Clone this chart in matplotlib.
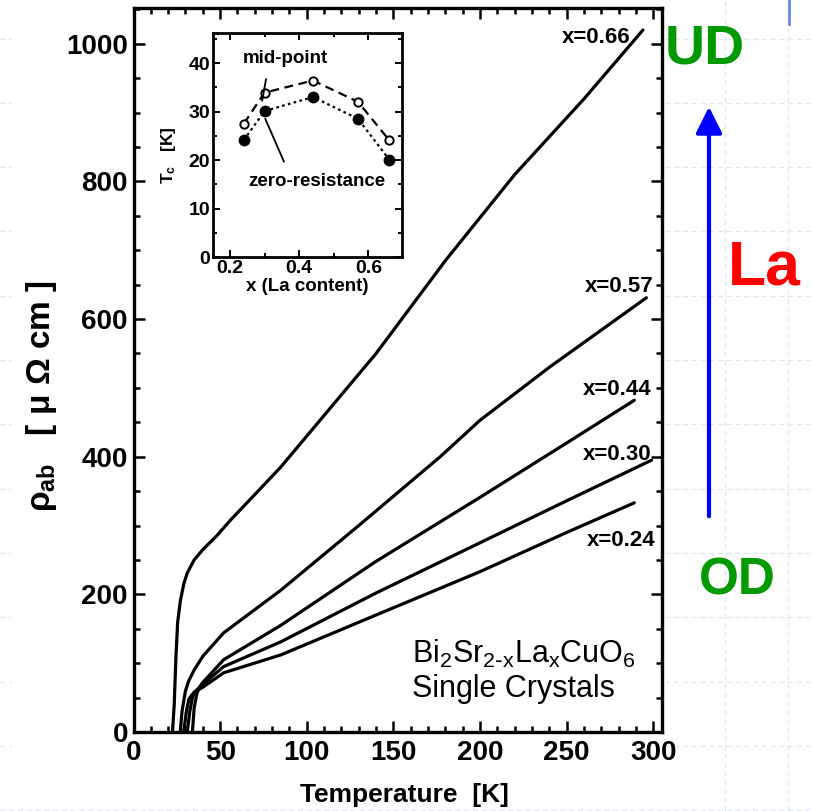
import matplotlib
matplotlib.use("Agg")
import matplotlib.pyplot as plt
from matplotlib.lines import Line2D
from matplotlib.patches import Rectangle, FancyArrowPatch

plt.rcParams['font.family'] = ['Liberation Sans', 'DejaVu Sans']
plt.rcParams['mathtext.default'] = 'regular'

# ---------------- data ----------------
T_066 = [22.5, 23.5, 24.5, 25.5, 27, 29, 31, 35, 40, 48, 56, 70, 85, 110, 140, 180, 220, 260, 294]
R_066 = [0, 40, 110, 160, 190, 215, 231, 250, 265, 285, 308, 345, 385, 460, 550, 685, 810, 920, 1020]
T_057 = [27, 28, 30, 32, 35, 40, 52, 85, 130, 177, 200, 240, 296]
R_057 = [0, 30, 60, 75, 90, 110, 144, 206, 300, 400, 453, 530, 631]
T_044 = [34, 35, 36.5, 38, 40, 52, 85, 140, 200, 250, 289]
R_044 = [0, 35, 55, 65, 72, 105, 155, 248, 341, 420, 482]
T_030 = [31, 32.5, 34, 36, 40, 52, 85, 140, 200, 250, 299]
R_030 = [0, 30, 50, 60, 69, 95, 131, 202, 275, 336, 395]
T_024 = [29, 30.5, 32, 35, 40, 52, 85, 140, 200, 250, 289]
R_024 = [0, 30, 48, 58, 65, 86, 112, 170, 233, 290, 333]

curve_labels = ["x=0.66", "x=0.57", "x=0.44", "x=0.30", "x=0.24"]
label_pos_T = [287, 300, 299, 299, 301]
label_pos_R = [1009, 647, 497, 403, 278]

x_ticks = [0, 50, 100, 150, 200, 250, 300]
y_ticks = [0, 200, 400, 600, 800, 1000]

# inset: Tc vs La content
x_La = [0.24, 0.30, 0.44, 0.57, 0.66]
Tc_mid = [27.5, 33.9, 36.4, 32.0, 24.1]
Tc_zero = [24.1, 30.1, 33.0, 28.5, 20.1]
inset_x_ticks = [0.2, 0.4, 0.6]
inset_y_ticks = [0, 10, 20, 30, 40]

W, H = 814, 811
fig = plt.figure(figsize=(W / 100, H / 100), dpi=100)

def fx(px):
    return px / W

def fy(py):
    return 1 - py / H

# ---------- faint slide grid in background ----------
grid_c = '#dfe5f7'
for k in range(13):
    yy = 38.5 + 64.3 * k
    fig.add_artist(Line2D([0, 1], [fy(yy), fy(yy)], color=grid_c, lw=0.9,
                          ls=(0, (4, 3)), transform=fig.transFigure, zorder=0))
for xx in [725, 788]:
    fig.add_artist(Line2D([fx(xx), fx(xx)], [0, 1], color=grid_c, lw=0.9,
                          ls=(0, (4, 3)), transform=fig.transFigure, zorder=0))
fig.add_artist(Line2D([fx(789), fx(789)], [fy(0), fy(24)], color='#6f86e8', lw=2,
                      transform=fig.transFigure, zorder=1))
# white background of the pasted chart picture
fig.add_artist(Rectangle((fx(12), fy(803)), fx(665) - fx(12), fy(0) - fy(803),
                         facecolor='white', edgecolor='none',
                         transform=fig.transFigure, zorder=1))

# ---------------- main axes ----------------
ax = fig.add_axes([fx(133.5), fy(732), fx(662) - fx(133.5), fy(8) - fy(732)])
ax.set_zorder(2)
for T, R in [(T_066, R_066), (T_057, R_057), (T_044, R_044), (T_030, R_030), (T_024, R_024)]:
    ax.plot(T, R, color='black', lw=2.3, solid_capstyle='round', solid_joinstyle='round')
ax.set_xlim(0, 305)
ax.set_ylim(0, 1052)
ax.set_xticks(x_ticks)
ax.set_yticks(y_ticks)
ax.set_xticks(range(0, 305, 10), minor=True)
ax.set_yticks(range(0, 1051, 50), minor=True)
ax.tick_params(which='both', direction='in', top=True, right=True, width=1.8,
               labelsize=20)
ax.tick_params(axis='x', pad=6)
ax.tick_params(axis='y', pad=4)
ax.tick_params(which='major', length=8)
ax.tick_params(which='minor', length=4.5)
for lab in ax.get_xticklabels() + ax.get_yticklabels():
    lab.set_fontweight('bold')
for s in ax.spines.values():
    s.set_linewidth(2.4)

for lab, tt, rr in zip(curve_labels, label_pos_T, label_pos_R):
    ax.text(tt, rr, lab, ha='right', va='center', fontsize=16, fontweight='bold')

ax.text(fx(412), fy(663), r'Bi$_2$Sr$_{2\text{-}x}$La$_x$CuO$_6$', transform=fig.transFigure,
        fontsize=22, ha='left', va='baseline')
ax.text(fx(412), fy(697), 'Single Crystals', transform=fig.transFigure,
        fontsize=22, ha='left', va='baseline')

fig.text(fx(404), fy(795), 'Temperature  [K]', ha='center', va='center',
         fontsize=19, fontweight='bold', zorder=3)
fig.text(fx(42), fy(396), r'$\rho_{ab}$   [ μ Ω cm ]', ha='center', va='center',
         rotation=90, fontsize=24, fontweight='bold', zorder=3)

# ---------------- inset ----------------
ins = fig.add_axes([fx(213), fy(257), fx(402) - fx(213), fy(33) - fy(257)])
ins.set_zorder(3)
ins.plot(x_La, Tc_mid, color='black', lw=1.6, ls=(0, (4, 2.5)), marker='o',
         ms=6, mfc='white', mec='black', mew=1.4)
ins.plot(x_La, Tc_zero, color='black', lw=1.6, ls=(0, (1.2, 1.5)), marker='o',
         ms=7.5, mfc='black', mec='black')
ins.set_xlim(0.151, 0.697)
ins.set_ylim(0, 46.2)
ins.set_xticks(inset_x_ticks)
ins.set_yticks(inset_y_ticks)
ins.set_xticks([0.2, 0.3, 0.4, 0.5, 0.6], minor=True)
ins.set_yticks(range(0, 46, 5), minor=True)
ins.tick_params(which='both', direction='in', top=True, right=True, width=1.4,
                labelsize=14, pad=2)
ins.tick_params(which='major', length=5)
ins.tick_params(which='minor', length=3)
for lab in ins.get_xticklabels() + ins.get_yticklabels():
    lab.set_fontweight('bold')
for s in ins.spines.values():
    s.set_linewidth(2.0)
ins.set_xlabel('x (La content)', fontsize=13.5, fontweight='bold', labelpad=1)
fig.text(fx(168), fy(155), r'$T_c$   [K]', rotation=90, ha='center', va='center',
         fontsize=12.5, fontweight='bold', zorder=4)

ins.annotate('mid-point', xy=(0.293, 32.2), xytext=(0.36, 41.0),
             fontsize=13.5, fontweight='bold', ha='center', va='center',
             arrowprops=dict(arrowstyle='-', color='black', lw=1.3, shrinkA=7, shrinkB=0,
                             relpos=(0.3, 0.0)))
ins.annotate('zero-resistance', xy=(0.302, 28.5), xytext=(0.45, 15.5),
             fontsize=13.5, fontweight='bold', ha='center', va='center',
             arrowprops=dict(arrowstyle='-', color='black', lw=1.3, shrinkA=7, shrinkB=0,
                             relpos=(0.3, 1.0)))

# ---------------- right side annotations ----------------
fig.text(fx(705), fy(50), 'UD', color='#009a00', fontsize=40, fontweight='bold',
         ha='center', va='center', zorder=3)
fig.text(fx(764), fy(268), 'La', color='#ff0000', fontsize=45, fontweight='bold',
         ha='center', va='center', zorder=3)
fig.text(fx(737), fy(581), 'OD', color='#009a00', fontsize=37, fontweight='bold',
         ha='center', va='center', zorder=3)
fig.add_artist(FancyArrowPatch((fx(709), fy(519)), (fx(709), fy(104)),
                               transform=fig.transFigure, arrowstyle='-|>,head_length=8,head_width=4',
                               color='#0000ff', lw=3, mutation_scale=2, zorder=3))

fig.savefig('out.png', dpi=100)
